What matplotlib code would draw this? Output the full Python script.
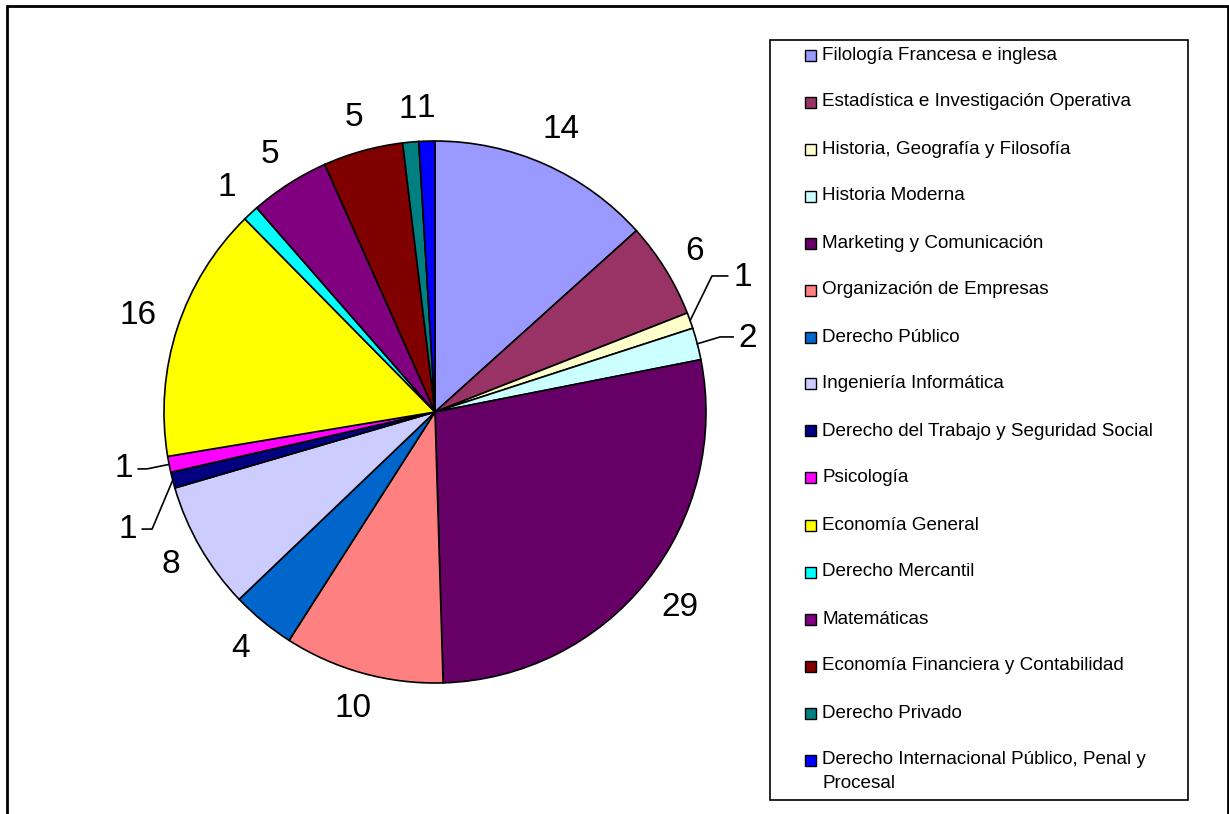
import matplotlib.pyplot as plt
import numpy as np
from matplotlib.patches import Rectangle

plt.rcParams['font.family'] = ['Liberation Sans', 'DejaVu Sans']

# Data
categories = [
    "Filología Francesa e inglesa",
    "Estadística e Investigación Operativa",
    "Historia, Geografía y Filosofía",
    "Historia Moderna",
    "Marketing y Comunicación",
    "Organización de Empresas",
    "Derecho Público",
    "Ingeniería Informática",
    "Derecho del Trabajo y Seguridad Social",
    "Psicología",
    "Economía General",
    "Derecho Mercantil",
    "Matemáticas",
    "Economía Financiera y Contabilidad",
    "Derecho Privado",
    "Derecho Internacional Público, Penal y\nProcesal",
]
values = [14, 6, 1, 2, 29, 10, 4, 8, 1, 1, 16, 1, 5, 5, 1, 1]
colors = ["#9999FF", "#993366", "#FFFFCC", "#CCFFFF", "#660066", "#FF8080",
          "#0066CC", "#CCCCFF", "#000080", "#FF00FF", "#FFFF00", "#00FFFF",
          "#800080", "#800000", "#008080", "#0000FF"]

W, H = 1229, 814
cx, cy, R = 435, 412, 271  # pie centre / radius in pixels

fig = plt.figure(figsize=(W / 100, H / 100), dpi=100)
ax = fig.add_axes([0, 0, 1, 1])

wedges, _ = ax.pie(values, colors=colors, startangle=90, counterclock=False,
                   radius=1, center=(0, 0),
                   wedgeprops=dict(edgecolor="black", linewidth=1.2))
ax.set_xlim(-cx / R, (W - cx) / R)
ax.set_ylim(-(H - cy) / R, cy / R)
ax.set_aspect('auto')
ax.axis('off')

# labels: most sit outside along the mid angle, a few use leader lines
# leader: index -> (elbow x, elbow y, text x, text y, ha)
leaders = {
    2: (1.022, 0.502, 1.10, 0.495, 'left'),
    3: (1.052, 0.277, 1.12, 0.272, 'left'),
    8: (-1.044, -0.432, -1.10, -0.432, 'right'),
    9: (-1.063, -0.210, -1.115, -0.210, 'right'),
}
gap = 20 / R
total = sum(values)
cum = 0
for i, v in enumerate(values):
    mid = 90 - (cum + v / 2) / total * 360
    cum += v
    a = np.deg2rad(mid)
    if i in leaders:
        ex, ey, tx, ty, ha = leaders[i]
        g = 0.02 if ha == 'left' else -0.02
        ax.plot([np.cos(a), ex, tx - g], [np.sin(a), ey, ey],
                color="black", lw=1.2)
        ax.text(tx, ty, str(v), ha=ha, va='center', fontsize=24)
    else:
        # keep the label box a fixed gap away from the rim
        hw = 9.3 * len(str(v)) / R
        hh = 12 / R
        d = 1 + gap + abs(np.cos(a)) * hw + abs(np.sin(a)) * hh
        ax.text(d * np.cos(a), d * np.sin(a), str(v),
                ha='center', va='center', fontsize=24)


def fx(px):
    return px / W


def fy(py):
    return 1 - py / H


# outer frame
fig.patches.append(Rectangle((fx(7), fy(830)), fx(1228) - fx(7), fy(6) - fy(830),
                             transform=fig.transFigure, fill=False,
                             edgecolor="black", lw=2))

# legend box
fig.patches.append(Rectangle((fx(770), fy(800)), fx(1188) - fx(770), fy(40) - fy(800),
                             transform=fig.transFigure, fill=False,
                             edgecolor="black", lw=1.2))
for i, (lab, c) in enumerate(zip(categories, colors)):
    y = 55 + 47 * i
    fig.patches.append(Rectangle((fx(805), fy(y + 5.5)), fx(11), 11 / H,
                                 transform=fig.transFigure, facecolor=c,
                                 edgecolor="black", lw=1))
    for k, line in enumerate(lab.split('\n')):
        fig.text(fx(822), fy(y + 23 * k), line, ha='left', va='center',
                 fontsize=13.6)

fig.savefig("out.png", dpi=100, facecolor="white")
